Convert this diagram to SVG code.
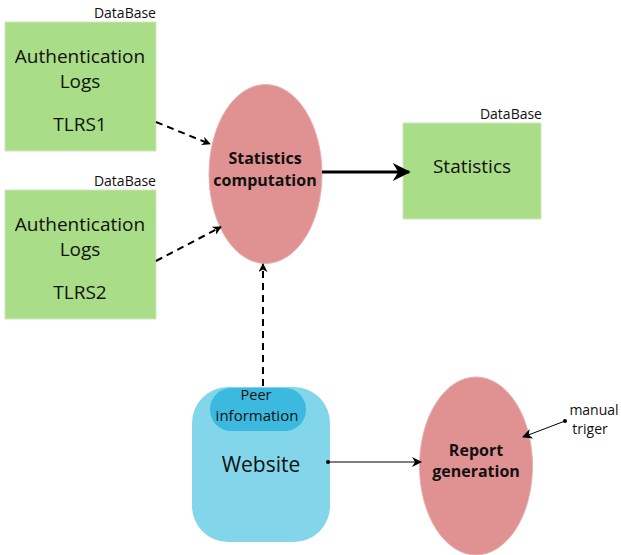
<svg xmlns="http://www.w3.org/2000/svg" width="621" height="555" viewBox="0 0 621 555">
<style>
text{font-family:"Open Sans","DejaVu Sans",sans-serif;fill:#111;text-anchor:middle}
.db{font-size:14px;text-anchor:end}
.box{fill:#a9dd87;stroke:#d0e8c0;stroke-width:1}
.ell{fill:#e09292;stroke:#e8b0b0}
.big{font-size:19px}
.bold{font-size:16px;font-weight:bold}
.dash{stroke:#000;stroke-width:2;stroke-dasharray:7,5;fill:none}
</style>
<defs>
<marker id="ah" viewBox="0 0 10 10" refX="9" refY="5" markerWidth="9" markerHeight="9" markerUnits="userSpaceOnUse" orient="auto"><path d="M0,0 L10,5 L0,10 L3,5 Z" fill="#000"/></marker>
<marker id="ahb" viewBox="0 0 10 10" refX="9" refY="5" markerWidth="26" markerHeight="18" markerUnits="userSpaceOnUse" orient="auto"><path d="M0,0 L10,5 L0,10 L3,5 Z" fill="#000"/></marker>
<marker id="ahs" viewBox="0 0 10 10" refX="9" refY="5" markerWidth="14" markerHeight="10" markerUnits="userSpaceOnUse" orient="auto"><path d="M0,0 L10,5 L0,10 L3,5 Z" fill="#000"/></marker>
<marker id="dot" viewBox="0 0 4 4" refX="2" refY="2" markerWidth="4" markerHeight="4" markerUnits="userSpaceOnUse"><circle cx="2" cy="2" r="2" fill="#000"/></marker>
</defs>
<g id="tlrs1">
<rect class="box" x="5" y="22" width="151" height="129"/>
<text class="db" x="156" y="18">DataBase</text>
<text class="big" x="80" y="63">Authentication</text>
<text class="big" x="80" y="88">Logs</text>
<text class="big" x="80" y="131">TLRS1</text>
</g>
<g id="tlrs2">
<rect class="box" x="5" y="190" width="151" height="129"/>
<text class="db" x="156" y="186">DataBase</text>
<text class="big" x="80" y="231">Authentication</text>
<text class="big" x="80" y="256">Logs</text>
<text class="big" x="80" y="299">TLRS2</text>
</g>
<g id="stats-comp">
<ellipse class="ell" cx="265.5" cy="174" rx="56.5" ry="89.5"/>
<text class="bold" x="265" y="164">Statistics</text>
<text class="bold" x="265" y="186">computation</text>
</g>
<g id="statistics">
<rect class="box" x="403" y="123" width="138" height="96"/>
<text class="db" x="542" y="119">DataBase</text>
<text class="big" x="472" y="173">Statistics</text>
</g>
<g id="website">
<rect x="192" y="387" width="138" height="155" rx="36" ry="36" fill="#83d6ea"/>
<rect x="210" y="388" width="96" height="43" rx="21" ry="21" fill="#3bb9df"/>
<text x="256" y="400" style="font-size:14.5px">Peer</text>
<text x="257" y="421" style="font-size:15px">information</text>
<text x="261" y="472" style="font-size:21px">Website</text>
</g>
<g id="report">
<ellipse class="ell" cx="476" cy="466" rx="56.5" ry="89"/>
<text class="bold" x="476" y="456">Report</text>
<text class="bold" x="476" y="477">generation</text>
</g>
<g id="trigger">
<text x="594" y="415" style="font-size:14px">manual</text>
<text x="590" y="434" style="font-size:14px">triger</text>
</g>
<g id="connectors">
<line class="dash" x1="156" y1="122" x2="210" y2="144" marker-end="url(#ah)"/>
<line class="dash" x1="156" y1="261" x2="221" y2="227" marker-end="url(#ah)"/>
<line class="dash" x1="263" y1="386" x2="263" y2="264" marker-end="url(#ah)"/>
<line x1="322" y1="172" x2="409" y2="172" stroke="#000" stroke-width="3" marker-end="url(#ahb)"/>
<line x1="328" y1="462" x2="421" y2="462" stroke="#000" stroke-width="1" marker-start="url(#dot)" marker-end="url(#ahs)"/>
<line x1="565" y1="421" x2="523" y2="437" stroke="#000" stroke-width="1" marker-start="url(#dot)" marker-end="url(#ahs)"/>
</g>
</svg>
